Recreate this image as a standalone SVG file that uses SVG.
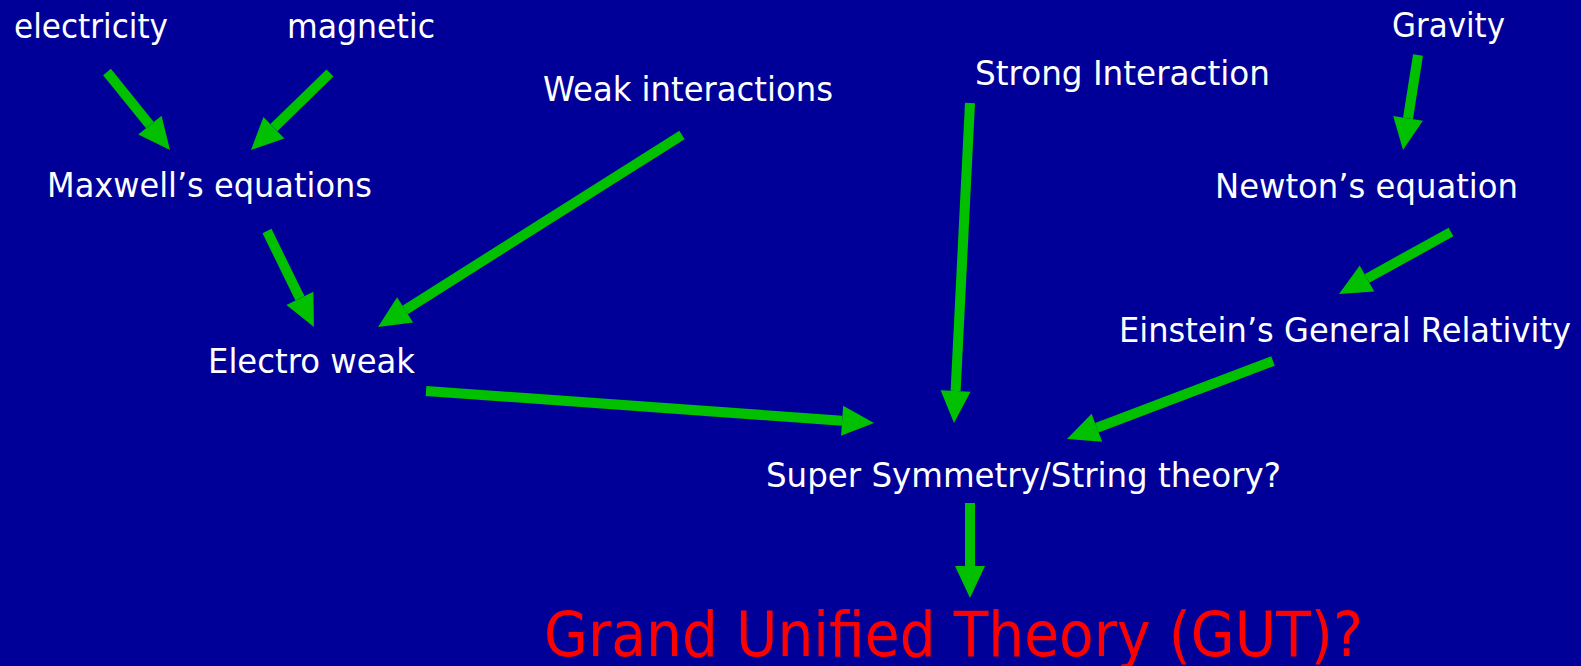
<svg xmlns="http://www.w3.org/2000/svg" width="1581" height="666" viewBox="0 0 1581 666">
<defs>
<marker id="ah" markerUnits="userSpaceOnUse" markerWidth="34" markerHeight="32" refX="0" refY="16" orient="auto" viewBox="0 0 34 32" overflow="visible">
<path d="M0,1 L32,16 L0,31 z" fill="#00c000"/>
</marker>
<style>
.t{font-family:"DejaVu Sans","Liberation Sans",sans-serif;font-size:33px;fill:#ffffff}
.g{font-family:"DejaVu Sans","Liberation Sans",sans-serif;font-size:63px;fill:#ff0000}
.c line{stroke:#00c000;stroke-width:10;stroke-linecap:butt;marker-end:url(#ah)}
</style>
</defs>
<rect width="1581" height="666" fill="#000099"/>
<g id="electricity"><text class="t" x="14" y="38" textLength="154" lengthAdjust="spacingAndGlyphs">electricity</text></g>
<g id="magnetic"><text class="t" x="287" y="38" textLength="148" lengthAdjust="spacingAndGlyphs">magnetic</text></g>
<g id="maxwell"><text class="t" x="47" y="197" textLength="325" lengthAdjust="spacingAndGlyphs">Maxwell’s equations</text></g>
<g id="weak"><text class="t" x="543" y="101" textLength="290" lengthAdjust="spacingAndGlyphs">Weak interactions</text></g>
<g id="strong"><text class="t" x="975" y="85" textLength="295" lengthAdjust="spacingAndGlyphs">Strong Interaction</text></g>
<g id="gravity"><text class="t" x="1392" y="37" textLength="113" lengthAdjust="spacingAndGlyphs">Gravity</text></g>
<g id="newton"><text class="t" x="1215" y="198" textLength="303" lengthAdjust="spacingAndGlyphs">Newton’s equation</text></g>
<g id="einstein"><text class="t" x="1119" y="342" textLength="452" lengthAdjust="spacingAndGlyphs">Einstein’s General Relativity</text></g>
<g id="electroweak"><text class="t" x="208" y="373" textLength="207" lengthAdjust="spacingAndGlyphs">Electro weak</text></g>
<g id="susy"><text class="t" x="766" y="487" textLength="515" lengthAdjust="spacingAndGlyphs">Super Symmetry/String theory?</text></g>
<g id="gut"><text class="g" x="544" y="656" textLength="819" lengthAdjust="spacingAndGlyphs">Grand Unified Theory (GUT)?</text></g>
<g id="connectors" class="c">
<line x1="107" y1="72" x2="149.9" y2="125.1"/>
<line x1="330" y1="73" x2="273.9" y2="127.7"/>
<line x1="267" y1="231" x2="299.9" y2="298.3"/>
<line x1="682" y1="135" x2="405.1" y2="309.9"/>
<line x1="426" y1="391" x2="842.1" y2="420.7"/>
<line x1="970" y1="103" x2="955.6" y2="391"/>
<line x1="1418" y1="55" x2="1408" y2="118.4"/>
<line x1="1451" y1="232" x2="1367" y2="278.5"/>
<line x1="1273" y1="361" x2="1096.9" y2="427.7"/>
<line x1="970" y1="503" x2="970" y2="566"/>
</g>
</svg>
